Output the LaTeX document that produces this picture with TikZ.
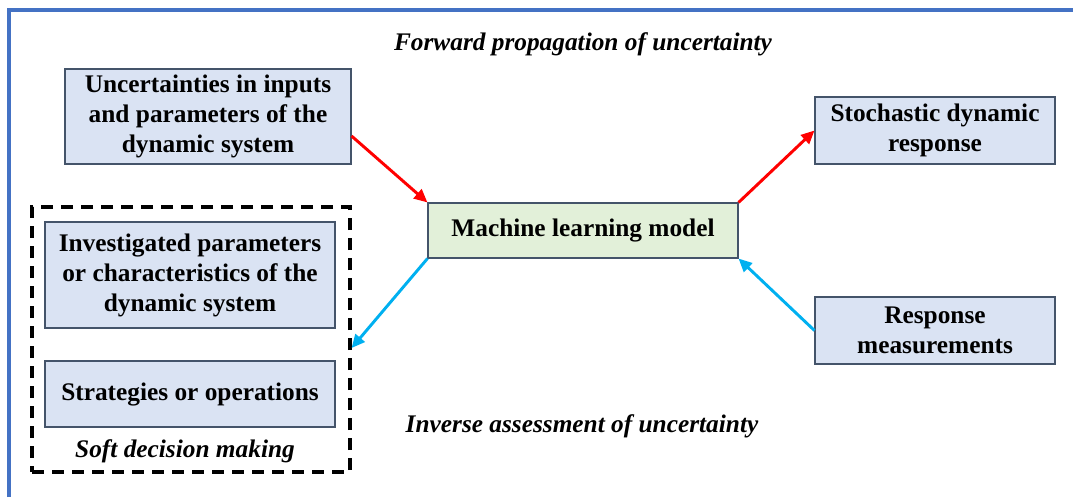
\documentclass[tikz,border=0pt]{standalone}
\usepackage{fontspec}
\setmainfont{Liberation Serif}
\usetikzlibrary{arrows.meta}
\definecolor{boxblue}{HTML}{DAE3F3}
\definecolor{boxgreen}{HTML}{E2F0D9}
\definecolor{edgegray}{HTML}{44546A}
\definecolor{framecol}{HTML}{4472C4}
\definecolor{fwdred}{HTML}{FF0000}
\definecolor{invblue}{HTML}{00B0F0}
\begin{document}
\begin{tikzpicture}[x=0.75pt,y=-0.75pt,
  every node/.style={font=\fontsize{19}{22.5}\selectfont\bfseries, align=center, inner sep=0pt},
  bluebox/.style={draw=edgegray, fill=boxblue, line width=0.8pt},
  greenbox/.style={draw=edgegray, fill=boxgreen, line width=0.8pt},
  softbox/.style={draw=black, line width=2.4pt, dash pattern=on 9pt off 6pt},
  fwd/.style={draw=fwdred, line width=2.2pt, -{Triangle[length=10pt,width=9pt]}},
  inv/.style={draw=invblue, line width=2.2pt, -{Triangle[length=10pt,width=9pt]}},
  note/.style={font=\fontsize{19}{22.5}\selectfont\bfseries\itshape}]
  \useasboundingbox (0,0) rectangle (1073,497);
  \draw[framecol, line width=2.4pt] (9,497) -- (9,10) -- (1073,10);

  \node[note] (fwdlabel) at (583,44) {Forward propagation of uncertainty};
  \node[note] (invlabel) at (582,426) {Inverse assessment of uncertainty};

  \node[bluebox, minimum width=214.5pt, minimum height=71.25pt] (inputs) at (208,116.5)
    {Uncertainties in inputs\\and parameters of the\\dynamic system};
  \node[greenbox, minimum width=232.5pt, minimum height=41.25pt] (ml) at (583,230.5)
    {Machine learning model};
  \node[bluebox, minimum width=180pt, minimum height=50.25pt] (resp) at (935,130.5)
    {Stochastic dynamic\\response};
  \node[bluebox, minimum width=180pt, minimum height=50.25pt] (meas) at (935,330.5)
    {Response\\measurements};

  \node[softbox, minimum width=238.5pt, minimum height=198.75pt] (soft) at (191,339.5) {};
  \node[bluebox, minimum width=217.5pt, minimum height=79.5pt] (invest) at (190,275)
    {Investigated parameters\\or characteristics of the\\dynamic system};
  \node[bluebox, minimum width=217.5pt, minimum height=49.5pt] (strat) at (190,394)
    {Strategies or operations};
  \node[note] (softlabel) at (185,451) {Soft decision making};

  \draw[fwd] (inputs.east |- 0,136) -- (ml.north west);
  \draw[fwd] (ml.north east) -- (resp.west);
  \draw[inv] (meas.west) -- (ml.south east);
  \draw[inv] (ml.south west) -- (soft.east |- 0,348);
\end{tikzpicture}
\end{document}
